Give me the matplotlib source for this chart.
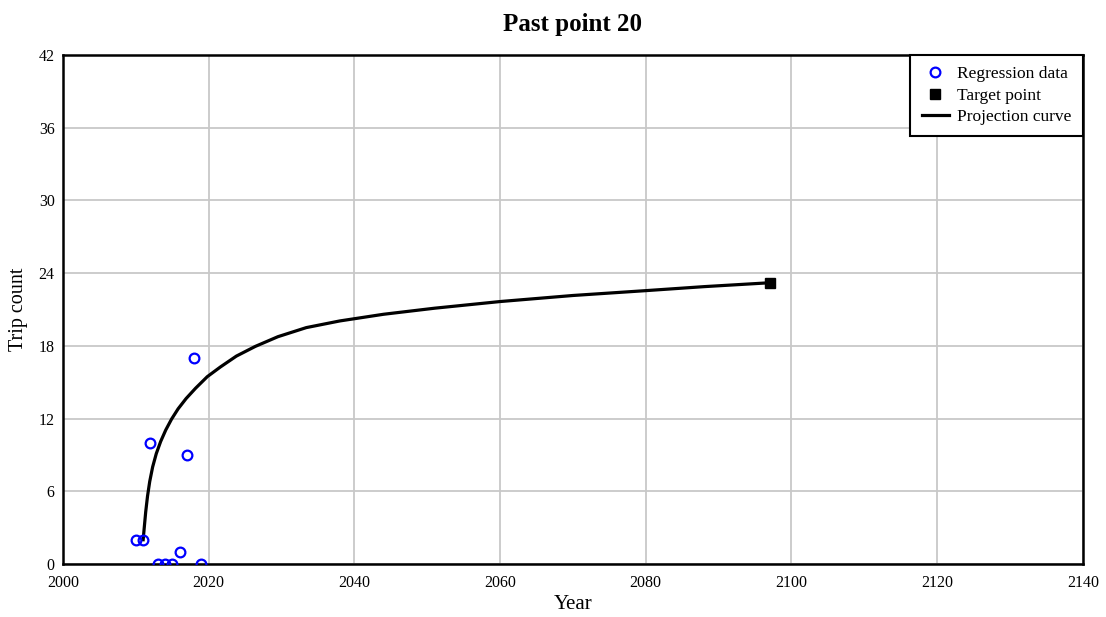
import numpy as np
import matplotlib.pyplot as plt

plt.rcParams['font.family'] = ['Liberation Serif', 'DejaVu Serif']

# regression data
years = [2010, 2011, 2012, 2013, 2014, 2015, 2016, 2017, 2018, 2019]
trips = [2, 2, 10, 0, 0, 0, 1, 9, 17, 0]

# target point
target_year = 2097
target_trips = 23.2

# projection curve
curve_years = [2011.0, 2011.15, 2011.35, 2011.6, 2011.9, 2012.3, 2012.8, 2013.4,
               2014.1, 2014.9, 2015.8, 2016.9, 2018.2, 2019.8, 2021.6, 2023.8,
               2026.4, 2029.5, 2033.4, 2038.0, 2044.0, 2051.0, 2060.0, 2070.0,
               2080.0, 2088.0, 2097.0]
curve_trips = [2.0, 3.0, 4.3, 5.6, 6.8, 8.0, 9.1, 10.1,
               11.05, 11.95, 12.8, 13.65, 14.5, 15.45, 16.25, 17.15,
               17.95, 18.75, 19.5, 20.05, 20.6, 21.1, 21.65, 22.15,
               22.55, 22.88, 23.2]

fig = plt.figure(figsize=(11.06, 6.17), dpi=100)
ax = fig.add_axes([0.057, 0.086, 0.922, 0.825])

ax.plot(years, trips, 'o', markerfacecolor='none', markeredgecolor='#0000ff',
        markersize=7, markeredgewidth=1.6, label='Regression data', zorder=4)
ax.plot([target_year], [target_trips], 's', color='black', markersize=7,
        label='Target point', zorder=5)
ax.plot(curve_years, curve_trips, '-', color='black', linewidth=2.3,
        label='Projection curve', zorder=3)

ax.set_xlim(2000, 2140)
ax.set_ylim(0, 42)
ax.set_xticks(np.arange(2000, 2141, 20))
ax.set_yticks(np.arange(0, 43, 6))
ax.grid(True, color='#c8c8c8', linewidth=1.3)
ax.set_axisbelow(True)
ax.tick_params(length=0, labelsize=11.5)
ax.tick_params(axis='x', pad=8)
ax.tick_params(axis='y', pad=6)
for s in ax.spines.values():
    s.set_linewidth(1.8)
    s.set_color('black')

ax.set_title('Past point 20', fontsize=18, fontweight='bold', pad=17)
ax.set_xlabel('Year', fontsize=15, labelpad=3)
ax.set_ylabel('Trip count', fontsize=14.5, labelpad=8)

leg = ax.legend(loc='upper right', borderaxespad=0, fontsize=12.5, fancybox=False,
                framealpha=1, edgecolor='black', handlelength=1.6,
                handletextpad=0.45, labelspacing=0.3, borderpad=0.65)
leg.get_frame().set_linewidth(1.5)

fig.savefig('out.png', dpi=100)
